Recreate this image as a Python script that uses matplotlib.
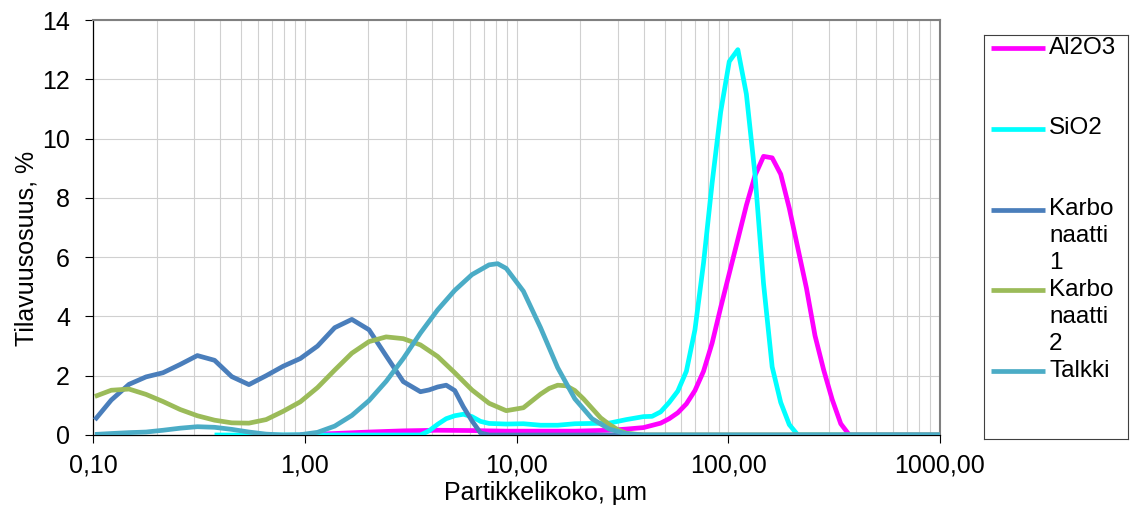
import matplotlib
matplotlib.use('Agg')
import matplotlib.pyplot as plt
from matplotlib.ticker import LogLocator, FixedLocator, FuncFormatter, NullFormatter

plt.rcParams['font.family'] = ['Liberation Sans', 'DejaVu Sans']

# particle size distributions, size in um, volume share in %
names = ['Al2O3', 'SiO2', 'Karbo\nnaatti\n1', 'Karbo\nnaatti\n2', 'Talkki']
colors = ['#FF00FF', '#00FFFF', '#4A7EBB', '#9BBB59', '#4BACC6']

al2o3_x = [0.953, 1.385, 2.011, 2.920, 4.241, 6.159, 8.944, 12.99, 18.86, 27.39, 33.01, 39.78,
           47.94, 52.63, 57.77, 63.42, 69.62, 76.43, 83.90, 92.10, 101.1, 111.0, 121.8, 133.7,
           146.8, 161.2, 176.9, 194.2, 213.2, 234.1, 256.9, 282.1, 309.6, 339.9, 373.1, 1041]
al2o3_y = [0.01, 0.05, 0.10, 0.14, 0.16, 0.15, 0.13, 0.13, 0.13, 0.16, 0.20, 0.25,
           0.40, 0.55, 0.75, 1.05, 1.50, 2.15, 3.10, 4.30, 5.45, 6.60, 7.75, 8.75,
           9.40, 9.35, 8.80, 7.65, 6.30, 4.95, 3.35, 2.20, 1.20, 0.38, 0.0, 0.0]

sio2_x = [0.375, 0.657, 1.149, 2.011, 3.519, 3.862, 4.241, 4.656, 5.111, 5.611, 6.159, 6.761,
          7.422, 8.944, 10.78, 12.99, 15.65, 18.86, 22.73, 27.39, 33.01, 39.78, 43.67, 47.94,
          52.63, 57.77, 63.42, 69.62, 76.43, 83.90, 92.10, 101.1, 111.0, 121.8, 133.7, 146.8,
          161.2, 176.9, 194.2, 213.2, 1041]
sio2_y = [0.0, 0.0, 0.0, 0.0, 0.0, 0.14, 0.36, 0.55, 0.65, 0.70, 0.62, 0.46,
          0.39, 0.37, 0.38, 0.33, 0.33, 0.38, 0.39, 0.40, 0.52, 0.62, 0.63, 0.78,
          1.10, 1.48, 2.15, 3.55, 5.80, 8.50, 10.9, 12.6, 13.0, 11.5, 8.80, 5.10,
          2.30, 1.10, 0.35, 0.0, 0.0]

karbo1_x = [0.102, 0.122, 0.148, 0.178, 0.214, 0.258, 0.311, 0.375, 0.452, 0.545, 0.657, 0.791,
            0.953, 1.149, 1.385, 1.669, 2.011, 2.423, 2.920, 3.519, 3.862, 4.241, 4.656, 5.111,
            5.611, 6.159, 6.761, 7.422, 1041]
karbo1_y = [0.51, 1.18, 1.71, 1.96, 2.10, 2.38, 2.68, 2.52, 1.97, 1.70, 2.00, 2.32,
            2.58, 3.00, 3.62, 3.90, 3.55, 2.67, 1.80, 1.46, 1.52, 1.62, 1.68, 1.50,
            0.95, 0.48, 0.07, 0.0, 0.0]

karbo2_x = [0.102, 0.122, 0.148, 0.178, 0.214, 0.258, 0.311, 0.375, 0.452, 0.545, 0.657, 0.791,
            0.953, 1.149, 1.385, 1.669, 2.011, 2.423, 2.920, 3.519, 4.241, 5.111, 6.159, 7.422,
            8.944, 10.78, 12.99, 14.26, 15.65, 17.18, 18.86, 20.71, 22.73, 24.95, 27.39, 30.07,
            33.01, 39.78, 1041]
karbo2_y = [1.30, 1.51, 1.55, 1.37, 1.13, 0.86, 0.65, 0.50, 0.41, 0.40, 0.52, 0.80,
            1.12, 1.60, 2.19, 2.76, 3.15, 3.31, 3.25, 3.04, 2.65, 2.10, 1.52, 1.07,
            0.82, 0.92, 1.38, 1.57, 1.68, 1.66, 1.50, 1.22, 0.90, 0.58, 0.36, 0.18,
            0.06, 0.0, 0.0]

talkki_x = [0.102, 0.122, 0.148, 0.178, 0.214, 0.258, 0.311, 0.375, 0.452, 0.545, 0.657, 0.791,
            0.953, 1.149, 1.385, 1.669, 2.011, 2.423, 2.920, 3.519, 4.241, 5.111, 6.159, 7.422,
            8.148, 8.944, 10.78, 12.99, 15.65, 18.86, 22.73, 27.39, 33.01, 39.78, 1041]
talkki_y = [0.02, 0.05, 0.08, 0.10, 0.16, 0.23, 0.28, 0.26, 0.19, 0.10, 0.03, 0.0,
            0.01, 0.09, 0.30, 0.66, 1.16, 1.81, 2.58, 3.44, 4.22, 4.88, 5.41, 5.74,
            5.78, 5.62, 4.85, 3.62, 2.27, 1.22, 0.55, 0.20, 0.04, 0.0, 0.0]

series = [(al2o3_x, al2o3_y), (sio2_x, sio2_y), (karbo1_x, karbo1_y),
          (karbo2_x, karbo2_y), (talkki_x, talkki_y)]

xticks = [0.1, 1, 10, 100, 1000]
yticks = [0, 2, 4, 6, 8, 10, 12, 14]

fig = plt.figure(figsize=(11.3, 5.12), dpi=100)
ax = fig.add_axes([93/1130, 77/512, 847/1130, 415/512])

for (xs, ys), c in zip(series, colors):
    ax.plot(xs, ys, color=c, lw=3.4, solid_capstyle='butt', solid_joinstyle='round', zorder=3)

ax.set_xscale('log')
ax.set_xlim(0.1, 1000)
ax.set_ylim(0, 14)
ax.xaxis.set_major_locator(FixedLocator(xticks))
ax.xaxis.set_minor_locator(LogLocator(base=10, subs=range(2, 10)))
ax.xaxis.set_major_formatter(FuncFormatter(lambda v, p: f'{v:.2f}'.replace('.', ',')))
ax.xaxis.set_minor_formatter(NullFormatter())
ax.set_yticks(yticks)

ax.grid(True, which='both', axis='x', color='#d0d0d0', lw=0.8, zorder=0)
ax.grid(True, which='major', axis='y', color='#d0d0d0', lw=0.8, zorder=0)
ax.set_axisbelow(True)

ax.tick_params(which='major', direction='out', length=5.5, width=0.8, color='black', labelsize=18)
ax.tick_params(axis='y', pad=11)
ax.tick_params(axis='x', pad=8)
ax.tick_params(which='minor', length=0)

for s in ['top', 'right']:
    ax.spines[s].set_color('#808080')
    ax.spines[s].set_linewidth(1.5)
for s in ['left', 'bottom']:
    ax.spines[s].set_color('black')
    ax.spines[s].set_linewidth(0.9)

ax.set_xlabel('Partikkelikoko, µm', fontsize=18)
ax.xaxis.set_label_coords(0.534, -0.110)
ax.set_ylabel('Tilavuusosuus, %', fontsize=18)
ax.yaxis.set_label_coords(-0.0643, 0.449)

# legend drawn by hand in its own box, entries spaced like the excel one
lax = fig.add_axes([984/1130, 73/512, 144/1130, 404/512])
lax.set_xlim(0, 144)
lax.set_ylim(404, 0)
lax.set_xticks([])
lax.set_yticks([])
for s in lax.spines.values():
    s.set_color('#404040')
    s.set_linewidth(0.8)

for i, (name, c) in enumerate(zip(names, colors)):
    ly = 13 + i * 80.8
    lax.plot([7, 61], [ly, ly], color=c, lw=3.4, solid_capstyle='butt')
    lax.text(65, ly - 11.5, name, fontsize=17.5, va='top', ha='left', linespacing=1.3)

fig.savefig('out.png', dpi=100)
